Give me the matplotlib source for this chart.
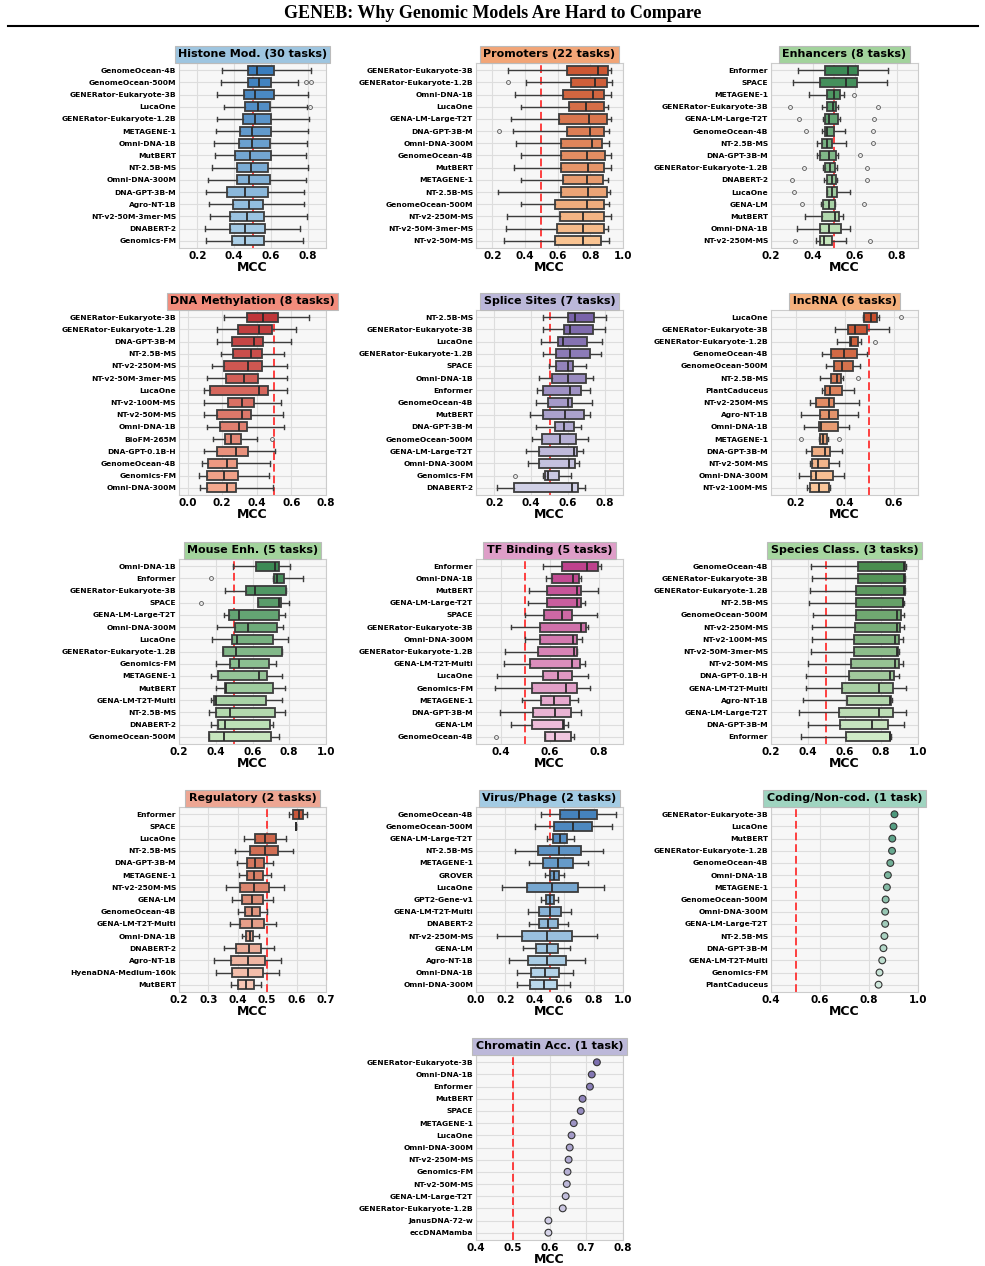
import numpy as np
import matplotlib
matplotlib.use("Agg")
import matplotlib.pyplot as plt
from matplotlib.colors import LinearSegmentedColormap
from matplotlib.lines import Line2D

# ______________________________________________________________________________
# Data : box stats per model = (whislo, q1, median, q3, whishi)

histone_models = ["GenomeOcean-4B", "GenomeOcean-500M", "GENERator-Eukaryote-3B", "LucaOne",
                  "GENERator-Eukaryote-1.2B", "METAGENE-1", "Omni-DNA-1B", "MutBERT", "NT-2.5B-MS",
                  "Omni-DNA-300M", "DNA-GPT-3B-M", "Agro-NT-1B", "NT-v2-50M-3mer-MS", "DNABERT-2",
                  "Genomics-FM"]
histone_box = [(0.336, 0.477, 0.523, 0.615, 0.817), (0.330, 0.477, 0.536, 0.600, 0.749),
               (0.308, 0.453, 0.514, 0.615, 0.804), (0.343, 0.461, 0.528, 0.593, 0.794),
               (0.308, 0.448, 0.512, 0.600, 0.807), (0.299, 0.433, 0.495, 0.600, 0.804),
               (0.290, 0.428, 0.497, 0.593, 0.798), (0.294, 0.406, 0.486, 0.600, 0.789),
               (0.281, 0.413, 0.492, 0.582, 0.804), (0.259, 0.413, 0.481, 0.593, 0.793),
               (0.248, 0.363, 0.457, 0.587, 0.780), (0.262, 0.393, 0.481, 0.556, 0.780),
               (0.270, 0.380, 0.468, 0.560, 0.794), (0.239, 0.376, 0.459, 0.569, 0.758),
               (0.248, 0.389, 0.461, 0.563, 0.776)]
histone_fliers = {1: [0.789, 0.817], 3: [0.813]}

promoters_models = ["GENERator-Eukaryote-3B", "GENERator-Eukaryote-1.2B", "Omni-DNA-1B", "LucaOne",
                    "GENA-LM-Large-T2T", "DNA-GPT-3B-M", "Omni-DNA-300M", "GenomeOcean-4B", "MutBERT",
                    "METAGENE-1", "NT-2.5B-MS", "GenomeOcean-500M", "NT-v2-250M-MS",
                    "NT-v2-50M-3mer-MS", "NT-v2-50M-MS"]
promoters_box = [(0.297, 0.659, 0.849, 0.911, 0.928), (0.405, 0.684, 0.830, 0.903, 0.932),
                 (0.338, 0.634, 0.816, 0.886, 0.928), (0.376, 0.669, 0.775, 0.886, 0.911),
                 (0.312, 0.611, 0.789, 0.903, 0.928), (0.324, 0.655, 0.800, 0.886, 0.917),
                 (0.343, 0.622, 0.808, 0.870, 0.913), (0.376, 0.618, 0.779, 0.890, 0.924),
                 (0.330, 0.618, 0.787, 0.886, 0.924), (0.378, 0.630, 0.779, 0.878, 0.911),
                 (0.233, 0.618, 0.787, 0.903, 0.919), (0.378, 0.585, 0.779, 0.886, 0.917),
                 (0.287, 0.613, 0.758, 0.886, 0.924), (0.283, 0.597, 0.758, 0.882, 0.911),
                 (0.270, 0.585, 0.758, 0.866, 0.917)]
promoters_fliers = {1: [0.297], 5: [0.243]}

enhancers_models = ["Enformer", "SPACE", "METAGENE-1", "GENERator-Eukaryote-3B", "GENA-LM-Large-T2T",
                    "GenomeOcean-4B", "NT-2.5B-MS", "DNA-GPT-3B-M", "GENERator-Eukaryote-1.2B",
                    "DNABERT-2", "LucaOne", "GENA-LM", "MutBERT", "Omni-DNA-1B", "NT-v2-250M-MS"]
enhancers_box = [(0.329, 0.456, 0.569, 0.613, 0.758), (0.303, 0.435, 0.558, 0.610, 0.752),
                 (0.381, 0.469, 0.502, 0.529, 0.548), (0.445, 0.468, 0.494, 0.508, 0.521),
                 (0.448, 0.456, 0.474, 0.521, 0.529), (0.445, 0.456, 0.465, 0.502, 0.550),
                 (0.419, 0.445, 0.465, 0.492, 0.558), (0.419, 0.435, 0.476, 0.508, 0.521),
                 (0.447, 0.456, 0.481, 0.506, 0.513), (0.452, 0.465, 0.489, 0.508, 0.516),
                 (0.465, 0.469, 0.489, 0.513, 0.577), (0.440, 0.448, 0.477, 0.503, 0.505),
                 (0.363, 0.445, 0.505, 0.526, 0.542), (0.324, 0.435, 0.477, 0.534, 0.577),
                 (0.416, 0.432, 0.453, 0.490, 0.558)]
enhancers_fliers = {2: [0.594], 3: [0.290, 0.710], 4: [0.332, 0.690], 5: [0.368, 0.684],
                    6: [0.684], 7: [0.626], 8: [0.356, 0.658], 9: [0.300, 0.658],
                    10: [0.311], 11: [0.348, 0.642], 14: [0.316, 0.671]}

methyl_models = ["GENERator-Eukaryote-3B", "GENERator-Eukaryote-1.2B", "DNA-GPT-3B-M", "NT-2.5B-MS",
                 "NT-v2-250M-MS", "NT-v2-50M-3mer-MS", "LucaOne", "NT-v2-100M-MS", "NT-v2-50M-MS",
                 "Omni-DNA-1B", "BioFM-265M", "DNA-GPT-0.1B-H", "GenomeOcean-4B", "Genomics-FM",
                 "Omni-DNA-300M"]
methyl_box = [(0.212, 0.342, 0.435, 0.525, 0.704), (0.169, 0.290, 0.410, 0.487, 0.627),
              (0.169, 0.256, 0.385, 0.438, 0.596), (0.192, 0.265, 0.365, 0.429, 0.560),
              (0.142, 0.208, 0.348, 0.429, 0.573), (0.112, 0.223, 0.323, 0.404, 0.575),
              (0.096, 0.131, 0.412, 0.467, 0.575), (0.092, 0.231, 0.313, 0.381, 0.542),
              (0.096, 0.169, 0.313, 0.367, 0.550), (0.112, 0.185, 0.296, 0.346, 0.560),
              (0.146, 0.215, 0.250, 0.308, 0.400), (0.092, 0.169, 0.279, 0.350, 0.504),
              (0.081, 0.117, 0.227, 0.288, 0.475), (0.065, 0.112, 0.208, 0.294, 0.469),
              (0.069, 0.112, 0.227, 0.279, 0.496)]
methyl_fliers = {10: [0.485]}

splice_models = ["NT-2.5B-MS", "GENERator-Eukaryote-3B", "LucaOne", "GENERator-Eukaryote-1.2B", "SPACE",
                 "Omni-DNA-1B", "Enformer", "GenomeOcean-4B", "MutBERT", "DNA-GPT-3B-M",
                 "GenomeOcean-500M", "GENA-LM-Large-T2T", "Omni-DNA-300M", "Genomics-FM", "DNABERT-2"]
splice_box = [(0.467, 0.599, 0.641, 0.740, 0.809), (0.467, 0.580, 0.613, 0.736, 0.804),
              (0.456, 0.548, 0.575, 0.703, 0.787), (0.467, 0.538, 0.613, 0.718, 0.778),
              (0.498, 0.537, 0.599, 0.626, 0.696), (0.443, 0.515, 0.599, 0.699, 0.736),
              (0.434, 0.465, 0.612, 0.672, 0.718), (0.429, 0.493, 0.602, 0.623, 0.730),
              (0.392, 0.467, 0.584, 0.690, 0.723), (0.425, 0.531, 0.580, 0.635, 0.672),
              (0.403, 0.458, 0.559, 0.644, 0.709), (0.374, 0.443, 0.632, 0.650, 0.681),
              (0.383, 0.443, 0.604, 0.639, 0.663), (0.465, 0.474, 0.493, 0.551, 0.617),
              (0.216, 0.306, 0.621, 0.654, 0.694)]
splice_fliers = {13: [0.310]}

lncrna_models = ["LucaOne", "GENERator-Eukaryote-3B", "GENERator-Eukaryote-1.2B", "GenomeOcean-4B",
                 "GenomeOcean-500M", "NT-2.5B-MS", "PlantCaduceus", "NT-v2-250M-MS", "Agro-NT-1B",
                 "Omni-DNA-1B", "METAGENE-1", "DNA-GPT-3B-M", "NT-v2-50M-MS", "Omni-DNA-300M",
                 "NT-v2-100M-MS"]
lncrna_box = [(0.476, 0.479, 0.508, 0.534, 0.542), (0.363, 0.414, 0.441, 0.490, 0.583),
              (0.368, 0.421, 0.428, 0.457, 0.469), (0.308, 0.346, 0.396, 0.451, 0.490),
              (0.324, 0.359, 0.390, 0.434, 0.465), (0.299, 0.345, 0.371, 0.386, 0.393),
              (0.308, 0.319, 0.339, 0.389, 0.439), (0.259, 0.283, 0.335, 0.356, 0.459),
              (0.221, 0.299, 0.335, 0.372, 0.455), (0.234, 0.297, 0.303, 0.374, 0.417),
              (0.297, 0.299, 0.314, 0.327, 0.331), (0.241, 0.266, 0.321, 0.341, 0.389),
              (0.259, 0.269, 0.292, 0.335, 0.379), (0.214, 0.262, 0.283, 0.352, 0.399),
              (0.248, 0.258, 0.297, 0.335, 0.342)]
lncrna_fliers = {0: [0.632], 2: [0.524], 5: [0.457], 10: [0.223, 0.379]}

mouse_models = ["Omni-DNA-1B", "Enformer", "GENERator-Eukaryote-3B", "SPACE", "GENA-LM-Large-T2T",
                "Omni-DNA-300M", "LucaOne", "GENERator-Eukaryote-1.2B", "Genomics-FM", "METAGENE-1",
                "MutBERT", "GENA-LM-T2T-Multi", "NT-2.5B-MS", "DNABERT-2", "GenomeOcean-500M"]
mouse_box = [(0.493, 0.620, 0.725, 0.745, 0.805), (0.714, 0.718, 0.734, 0.774, 0.875),
             (0.452, 0.562, 0.613, 0.781, 0.781), (0.631, 0.631, 0.743, 0.756, 0.801),
             (0.444, 0.471, 0.526, 0.743, 0.779), (0.406, 0.506, 0.578, 0.736, 0.767),
             (0.379, 0.488, 0.515, 0.714, 0.795), (0.437, 0.437, 0.511, 0.759, 0.759),
             (0.403, 0.475, 0.529, 0.689, 0.728), (0.376, 0.414, 0.634, 0.680, 0.759),
             (0.403, 0.452, 0.457, 0.714, 0.779), (0.376, 0.390, 0.403, 0.674, 0.759),
             (0.363, 0.399, 0.475, 0.725, 0.779), (0.376, 0.412, 0.453, 0.696, 0.710),
             (0.363, 0.363, 0.443, 0.701, 0.743)]
mouse_fliers = {1: [0.376], 3: [0.321]}

tf_models = ["Enformer", "Omni-DNA-1B", "MutBERT", "GENA-LM-Large-T2T", "SPACE", "GENERator-Eukaryote-3B",
             "Omni-DNA-300M", "GENERator-Eukaryote-1.2B", "GENA-LM-T2T-Multi", "LucaOne", "Genomics-FM",
             "METAGENE-1", "DNA-GPT-3B-M", "GENA-LM", "GenomeOcean-4B"]
tf_box = [(0.574, 0.652, 0.754, 0.797, 0.812), (0.584, 0.611, 0.697, 0.720, 0.727),
          (0.516, 0.588, 0.713, 0.727, 0.797), (0.513, 0.590, 0.713, 0.727, 0.744),
          (0.498, 0.577, 0.653, 0.693, 0.792), (0.444, 0.563, 0.727, 0.751, 0.756),
          (0.499, 0.563, 0.697, 0.713, 0.733), (0.418, 0.554, 0.702, 0.713, 0.713),
          (0.416, 0.520, 0.693, 0.724, 0.743), (0.386, 0.574, 0.634, 0.693, 0.756),
          (0.377, 0.529, 0.669, 0.713, 0.765), (0.488, 0.567, 0.618, 0.682, 0.717),
          (0.397, 0.533, 0.621, 0.686, 0.727), (0.444, 0.529, 0.655, 0.659, 0.675),
          (0.581, 0.581, 0.622, 0.686, 0.702)]
tf_fliers = {14: [0.380]}

species_models = ["GenomeOcean-4B", "GENERator-Eukaryote-3B", "GENERator-Eukaryote-1.2B", "NT-2.5B-MS",
                  "GenomeOcean-500M", "NT-v2-250M-MS", "NT-v2-100M-MS", "NT-v2-50M-3mer-MS", "NT-v2-50M-MS",
                  "DNA-GPT-0.1B-H", "GENA-LM-T2T-Multi", "Agro-NT-1B", "GENA-LM-Large-T2T",
                  "DNA-GPT-3B-M", "Enformer"]
species_box = [(0.416, 0.671, 0.925, 0.931, 0.935), (0.422, 0.671, 0.925, 0.929, 0.929),
               (0.411, 0.665, 0.925, 0.929, 0.929), (0.407, 0.662, 0.916, 0.920, 0.925),
               (0.431, 0.662, 0.885, 0.907, 0.925), (0.425, 0.656, 0.884, 0.904, 0.925),
               (0.422, 0.649, 0.876, 0.895, 0.916), (0.418, 0.649, 0.884, 0.889, 0.898),
               (0.402, 0.638, 0.876, 0.895, 0.916), (0.393, 0.622, 0.847, 0.871, 0.898),
               (0.389, 0.589, 0.789, 0.862, 0.935), (0.375, 0.611, 0.847, 0.853, 0.858),
               (0.353, 0.571, 0.789, 0.862, 0.935), (0.400, 0.575, 0.747, 0.835, 0.925),
               (0.362, 0.607, 0.847, 0.849, 0.853)]
species_fliers = {}

regul_models = ["Enformer", "SPACE", "LucaOne", "NT-2.5B-MS", "DNA-GPT-3B-M", "METAGENE-1", "NT-v2-250M-MS",
                "GENA-LM", "GenomeOcean-4B", "GENA-LM-T2T-Multi", "Omni-DNA-1B", "DNABERT-2", "Agro-NT-1B",
                "HyenaDNA-Medium-160k", "MutBERT"]
regul_box = [(0.573, 0.588, 0.608, 0.622, 0.636), (0.599, 0.599, 0.599, 0.599, 0.599),
             (0.420, 0.457, 0.494, 0.531, 0.565), (0.391, 0.440, 0.491, 0.536, 0.588),
             (0.398, 0.432, 0.460, 0.488, 0.519), (0.403, 0.432, 0.455, 0.485, 0.514),
             (0.360, 0.409, 0.455, 0.506, 0.557), (0.381, 0.415, 0.449, 0.485, 0.519),
             (0.400, 0.425, 0.449, 0.474, 0.499), (0.372, 0.409, 0.448, 0.488, 0.531),
             (0.415, 0.428, 0.440, 0.451, 0.472), (0.352, 0.394, 0.438, 0.480, 0.522),
             (0.320, 0.377, 0.436, 0.491, 0.548), (0.326, 0.381, 0.436, 0.485, 0.540),
             (0.377, 0.402, 0.428, 0.455, 0.480)]
regul_fliers = {}

virus_models = ["GenomeOcean-4B", "GenomeOcean-500M", "GENA-LM-Large-T2T", "NT-2.5B-MS", "METAGENE-1",
                "GROVER", "LucaOne", "GPT2-Gene-v1", "GENA-LM-T2T-Multi", "DNABERT-2", "NT-v2-250M-MS",
                "GENA-LM", "Agro-NT-1B", "Omni-DNA-1B", "Omni-DNA-300M"]
virus_box = [(0.443, 0.571, 0.702, 0.823, 0.953), (0.398, 0.530, 0.661, 0.786, 0.923),
             (0.480, 0.523, 0.571, 0.622, 0.667), (0.267, 0.421, 0.565, 0.713, 0.866),
             (0.363, 0.457, 0.560, 0.661, 0.763), (0.466, 0.503, 0.530, 0.565, 0.599),
             (0.176, 0.347, 0.519, 0.695, 0.869), (0.443, 0.473, 0.501, 0.530, 0.558),
             (0.352, 0.427, 0.501, 0.576, 0.649), (0.359, 0.427, 0.489, 0.560, 0.626),
             (0.142, 0.313, 0.485, 0.656, 0.823), (0.320, 0.405, 0.485, 0.560, 0.638),
             (0.222, 0.354, 0.485, 0.610, 0.741), (0.279, 0.377, 0.469, 0.565, 0.661),
             (0.279, 0.370, 0.462, 0.549, 0.640)]
virus_fliers = {}

coding_models = ["GENERator-Eukaryote-3B", "LucaOne", "MutBERT", "GENERator-Eukaryote-1.2B", "GenomeOcean-4B",
                 "Omni-DNA-1B", "METAGENE-1", "GenomeOcean-500M", "Omni-DNA-300M", "GENA-LM-Large-T2T",
                 "NT-2.5B-MS", "DNA-GPT-3B-M", "GENA-LM-T2T-Multi", "Genomics-FM", "PlantCaduceus"]
coding_mcc = [0.904, 0.900, 0.895, 0.894, 0.887, 0.877, 0.873, 0.868, 0.866, 0.866,
              0.863, 0.859, 0.854, 0.843, 0.839]

chromatin_models = ["GENERator-Eukaryote-3B", "Omni-DNA-1B", "Enformer", "MutBERT", "SPACE", "METAGENE-1",
                    "LucaOne", "Omni-DNA-300M", "NT-v2-250M-MS", "Genomics-FM", "NT-v2-50M-MS",
                    "GENA-LM-Large-T2T", "GENERator-Eukaryote-1.2B", "JanusDNA-72-w", "eccDNAMamba"]
chromatin_mcc = [0.729, 0.715, 0.710, 0.690, 0.685, 0.666, 0.660, 0.655, 0.652, 0.649,
                 0.647, 0.644, 0.636, 0.597, 0.597]

# ______________________________________________________________________________
# Panels : (title, models, data, fliers, xlim, xticks, top color, bottom color, title color, col, row)

panels = [
    ("Histone Mod. (30 tasks)", histone_models, histone_box, histone_fliers, (0.1, 0.9),
     [0.2, 0.4, 0.6, 0.8], "#3a7dbd", "#abcfe7", "#9ec5e0", 0, 0),
    ("Promoters (22 tasks)", promoters_models, promoters_box, promoters_fliers, (0.1, 1.0),
     [0.2, 0.4, 0.6, 0.8, 1.0], "#cc5733", "#f9c391", "#f2a577", 1, 0),
    ("Enhancers (8 tasks)", enhancers_models, enhancers_box, enhancers_fliers, (0.2, 0.9),
     [0.2, 0.4, 0.6, 0.8], "#3b8a55", "#c4e5bb", "#a2d39c", 2, 0),
    ("DNA Methylation (8 tasks)", methyl_models, methyl_box, methyl_fliers, (-0.05, 0.8),
     [0.0, 0.2, 0.4, 0.6, 0.8], "#bf3639", "#f4a98e", "#f28c7c", 0, 1),
    ("Splice Sites (7 tasks)", splice_models, splice_box, splice_fliers, (0.1, 0.9),
     [0.2, 0.4, 0.6, 0.8], "#7a64aa", "#d0d0e6", "#bbb7d9", 1, 1),
    ("lncRNA (6 tasks)", lncrna_models, lncrna_box, lncrna_fliers, (0.1, 0.7),
     [0.2, 0.4, 0.6], "#c8502e", "#f9c69a", "#f5b07c", 2, 1),
    ("Mouse Enh. (5 tasks)", mouse_models, mouse_box, mouse_fliers, (0.2, 1.0),
     [0.2, 0.4, 0.6, 0.8, 1.0], "#3d8a55", "#c6e6bd", "#a2d39c", 0, 2),
    ("TF Binding (5 tasks)", tf_models, tf_box, tf_fliers, (0.3, 0.9),
     [0.4, 0.6, 0.8], "#bf428d", "#f0c6df", "#de9ec8", 1, 2),
    ("Species Class. (3 tasks)", species_models, species_box, species_fliers, (0.2, 1.0),
     [0.2, 0.4, 0.6, 0.8, 1.0], "#4a8d4f", "#cfeac6", "#a6d6a0", 2, 2),
    ("Regulatory (2 tasks)", regul_models, regul_box, regul_fliers, (0.2, 0.7),
     [0.2, 0.3, 0.4, 0.5, 0.6, 0.7], "#c8573b", "#f7c6b4", "#eda693", 0, 3),
    ("Virus/Phage (2 tasks)", virus_models, virus_box, virus_fliers, (0.0, 1.0),
     [0.0, 0.2, 0.4, 0.6, 0.8, 1.0], "#4582bc", "#bad8eb", "#a3cbe3", 1, 3),
    ("Coding/Non-cod. (1 task)", coding_models, coding_mcc, None, (0.4, 1.0),
     [0.4, 0.6, 0.8, 1.0], "#4c987c", "#cfe8dc", "#9fd4c0", 2, 3),
    ("Chromatin Acc. (1 task)", chromatin_models, chromatin_mcc, None, (0.4, 0.8),
     [0.4, 0.5, 0.6, 0.7, 0.8], "#7d70af", "#d5d3e8", "#bcb8d9", 1, 4),
]

# ______________________________________________________________________________
# Figure

W, H = 985, 1266
fig = plt.figure(figsize=(W / 100, H / 100), dpi=100)

col_left = [179, 476, 771]
row_top = [63, 310, 559, 807, 1055]
ax_w, ax_h = 147, 185

fig.text(0.5, 1 - 14 / H, "GENEB: Why Genomic Models Are Hard to Compare", ha="center", va="center",
         fontsize=13, fontweight="bold", family="Liberation Serif")
fig.add_artist(Line2D([8 / W, 978 / W], [1 - 26 / H, 1 - 26 / H], color="black", lw=1.5,
                      transform=fig.transFigure))

for title, models, data, fliers, xlim, xticks, c_top, c_bot, c_title, col, row in panels:
    ax = fig.add_axes([col_left[col] / W, 1 - (row_top[row] + ax_h) / H, ax_w / W, ax_h / H])
    ax.set_facecolor("#f7f7f7")
    n = len(models)
    cmap = LinearSegmentedColormap.from_list("p", [c_top, c_bot])
    cols = [cmap(i / (n - 1)) for i in range(n)]
    pos = np.arange(n)

    ax.axvline(0.5, color="#ff2020", ls="--", lw=1.4, alpha=0.85, zorder=1, dashes=(4, 2))

    if fliers is not None:
        stats = []
        for i, (lo, q1, med, q3, hi) in enumerate(data):
            stats.append(dict(whislo=lo, q1=q1, med=med, q3=q3, whishi=hi, fliers=fliers.get(i, [])))
        bp = ax.bxp(stats, positions=pos, widths=0.75, orientation="horizontal", patch_artist=True,
                    boxprops=dict(edgecolor="#3c3c3c", linewidth=1.3),
                    medianprops=dict(color="#2a2a2a", linewidth=1.3),
                    whiskerprops=dict(color="#3c3c3c", linewidth=1.0),
                    capprops=dict(color="#3c3c3c", linewidth=1.0),
                    flierprops=dict(marker="o", markersize=2.8, markerfacecolor="none",
                                    markeredgecolor="#555555", markeredgewidth=0.6),
                    zorder=2)
        for patch, c in zip(bp["boxes"], cols):
            patch.set_facecolor(c)
    else:
        ax.scatter(data, pos, s=24, c=cols, edgecolors="#333333", linewidths=0.8, zorder=3)

    ax.set_xlim(*xlim)
    ax.set_ylim(n - 0.4, -0.6)
    ax.set_xticks(xticks)
    ax.set_xticklabels(["%.1f" % t for t in xticks], fontsize=7.5, fontweight="bold")
    ax.set_yticks(pos)
    ax.set_yticklabels(models, fontsize=5.4, fontweight="bold")
    ax.tick_params(length=0, pad=2)
    ax.grid(True, color="#dddddd", lw=0.8, zorder=0)
    ax.set_axisbelow(True)
    for s in ax.spines.values():
        s.set_color("#cccccc")
        s.set_linewidth(0.8)
    ax.set_xlabel("MCC", fontsize=9, fontweight="bold", labelpad=0)
    ax.set_title(title, fontsize=8, fontweight="bold", pad=4,
                 bbox=dict(boxstyle="square,pad=0.3", fc=c_title, ec="#bbbbbb", lw=0.8))

fig.savefig("out.png", dpi=100, facecolor="white")
